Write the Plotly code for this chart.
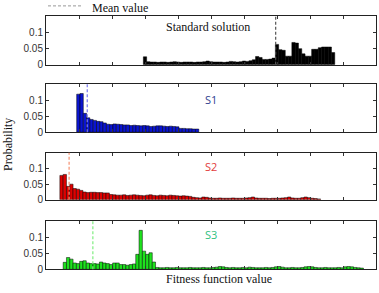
import plotly.graph_objects as go

W, H = 379, 293

# ---------------- data ----------------
bin_width = 0.1
panel_names = ["Standard solution", "S1", "S2", "S3"]
bin_starts = [3.0, 0.98, 0.47, 0.57]

std_vals = [0.024,
            0.009, 0.008, 0.008, 0.007, 0.008, 0.008, 0.007, 0.008, 0.009, 0.008,
            0.007, 0.008, 0.008, 0.008, 0.007, 0.008, 0.008, 0.009, 0.011, 0.009,
            0.008, 0.008, 0.008, 0.007, 0.008, 0.010, 0.009, 0.008, 0.009, 0.011, 0.010,
            0.012, 0.015, 0.025, 0.022, 0.016, 0.016, 0.017, 0.020,
            0.062, 0.046, 0.044, 0.026, 0.026, 0.068, 0.066, 0.049, 0.033, 0.026,
            0.026, 0.047, 0.047, 0.052, 0.054, 0.054, 0.054, 0.037]

s1_vals = [0.119, 0.121, 0.059, 0.045, 0.040, 0.037, 0.034, 0.033, 0.029, 0.025,
           0.024, 0.026, 0.025, 0.024, 0.023, 0.023, 0.021, 0.022, 0.021, 0.020,
           0.021, 0.020, 0.018, 0.019, 0.020, 0.020, 0.019, 0.018, 0.019, 0.018,
           0.017, 0.012, 0.012, 0.011, 0.011, 0.010, 0.010]

s2_vals = [0.078, 0.081, 0.043, 0.050, 0.036, 0.034, 0.030, 0.025, 0.023, 0.024,
           0.024, 0.023, 0.023, 0.022, 0.022, 0.017,
           0.016, 0.015, 0.015, 0.016, 0.014, 0.015, 0.016, 0.015, 0.014, 0.013,
           0.015, 0.016, 0.014, 0.013, 0.015, 0.014, 0.013, 0.015, 0.014, 0.013,
           0.012, 0.013, 0.012, 0.011,
           0.008, 0.007, 0.006, 0.009, 0.008, 0.006, 0.005, 0.005, 0.006, 0.005,
           0.005, 0.005, 0.006, 0.005, 0.005, 0.005, 0.006, 0.007, 0.009, 0.006,
           0.005, 0.005, 0.005, 0.004, 0.005, 0.005, 0.005, 0.006, 0.007, 0.009,
           0.006, 0.005, 0.005, 0.007, 0.009, 0.007, 0.005, 0.004, 0.003]

s3_vals = [0.022, 0.037, 0.032, 0.020, 0.018, 0.025, 0.027, 0.020, 0.018, 0.018,
           0.017, 0.023, 0.020, 0.018, 0.015, 0.020, 0.020, 0.015, 0.015, 0.013,
           0.015, 0.017, 0.047, 0.122, 0.057, 0.047, 0.052, 0.023,
           0.006, 0.005, 0.005, 0.006, 0.005, 0.005, 0.006, 0.005, 0.005, 0.005,
           0.006, 0.005, 0.005, 0.005, 0.006, 0.005, 0.005, 0.006, 0.007,
           0.009, 0.008, 0.006,
           0.005, 0.006, 0.005, 0.005, 0.006, 0.005, 0.007, 0.006, 0.005, 0.005,
           0.005, 0.006, 0.005, 0.006,
           0.008, 0.009, 0.007,
           0.005, 0.005, 0.006, 0.005, 0.005, 0.006,
           0.008, 0.009, 0.008, 0.006,
           0.005, 0.005, 0.006, 0.005, 0.005, 0.005, 0.006, 0.005,
           0.008, 0.009, 0.008, 0.006,
           0.005, 0.004]

mean_values = [6.96, 1.25, 0.70, 1.42]

y_ticks = [0, 0.05, 0.1]
y_tick_labels = ["0", "0.05", "0.1"]

# ---------------- styles ----------------
bar_colors = ["#000000", "#0a14d2", "#e00000", "#1ee21e"]
mean_colors = ["#555555", "#7878f0", "#f59070", "#80ee80"]
label_colors = ["#111111", "#2f3f8f", "#e23c3c", "#2fbf7f"]
panels_px = [(16, 66), (86, 135), (156, 204), (226, 275)]
x_dom = [46 / W, 376 / W]

series = [std_vals, s1_vals, s2_vals, s3_vals]

fig = go.Figure()
layout = dict(width=W, height=H, margin=dict(l=0, r=0, t=0, b=0),
              paper_bgcolor="white", plot_bgcolor="white", showlegend=False,
              shapes=[], annotations=[])

for i, vals in enumerate(series):
    k = "" if i == 0 else str(i + 1)
    centers = [bin_starts[i] + bin_width * j for j in range(len(vals))]
    fig.add_trace(go.Bar(
        x=centers, y=vals, width=bin_width,
        marker=dict(color=bar_colors[i], line=dict(color="#000000", width=0.5)),
        xaxis="x" + k, yaxis="y" + k, hoverinfo="skip"))
    top, bot = panels_px[i]
    layout["xaxis" + k] = dict(
        domain=x_dom, range=[0, 10], tickvals=list(range(1, 10)),
        showticklabels=False, ticks="inside", ticklen=3, tickcolor="#333",
        showline=True, linecolor="#222", linewidth=1, mirror="ticks",
        showgrid=False, zeroline=False, anchor="y" + k, fixedrange=True)
    layout["yaxis" + k] = dict(
        domain=[1 - bot / H, 1 - top / H], range=[0, 0.15],
        tickvals=y_ticks, ticktext=y_tick_labels, ticks="inside", ticklen=3,
        tickcolor="#333", tickfont=dict(family="Arial, Liberation Sans", size=10, color="#333"),
        showline=True, linecolor="#222", linewidth=1, mirror="ticks",
        showgrid=False, zeroline=False, anchor="x" + k, fixedrange=True)
    layout["shapes"].append(dict(
        type="line", xref="x" + k, yref=("y" + k + " domain") if k else "y domain",
        x0=mean_values[i], x1=mean_values[i], y0=0, y1=1, layer="above",
        line=dict(color=mean_colors[i], width=1.2, dash="3px,2px")))

# panel labels
label_pos = [(208, 28), (211, 102), (211, 170), (211, 239)]
for i, name in enumerate(panel_names):
    fam = "Liberation Serif, Times New Roman" if i == 0 else "Open Sans, Liberation Sans"
    sz = 12 if i == 0 else 11
    layout["annotations"].append(dict(
        text=name, xref="paper", yref="paper", x=label_pos[i][0] / W, y=1 - label_pos[i][1] / H,
        xanchor="center", yanchor="middle", showarrow=False,
        font=dict(family=fam, size=sz, color=label_colors[i])))

# legend
layout["shapes"].append(dict(type="line", xref="paper", yref="paper",
                             x0=48 / W, x1=83 / W, y0=1 - 6 / H, y1=1 - 6 / H,
                             line=dict(color="#999999", width=1, dash="3px,2px")))
layout["annotations"].append(dict(text="Mean value", xref="paper", yref="paper",
                                  x=91 / W, y=1.0, xanchor="left", yanchor="top",
                                  showarrow=False, borderpad=0,
                                  font=dict(family="Liberation Serif, Times New Roman", size=12, color="#111")))
# axis titles
layout["annotations"].append(dict(text="Probability", xref="paper", yref="paper",
                                  x=8 / W, y=1 - 148 / H, xanchor="center", yanchor="middle",
                                  textangle=-90, showarrow=False,
                                  font=dict(family="Liberation Serif, Times New Roman", size=12, color="#111")))
layout["annotations"].append(dict(text="Fitness function value", xref="paper", yref="paper",
                                  x=219 / W, y=0.0, xanchor="center", yanchor="bottom",
                                  showarrow=False, borderpad=0,
                                  font=dict(family="Liberation Serif, Times New Roman", size=12, color="#111")))

fig.update_layout(**layout)
fig.write_html("out.html")
